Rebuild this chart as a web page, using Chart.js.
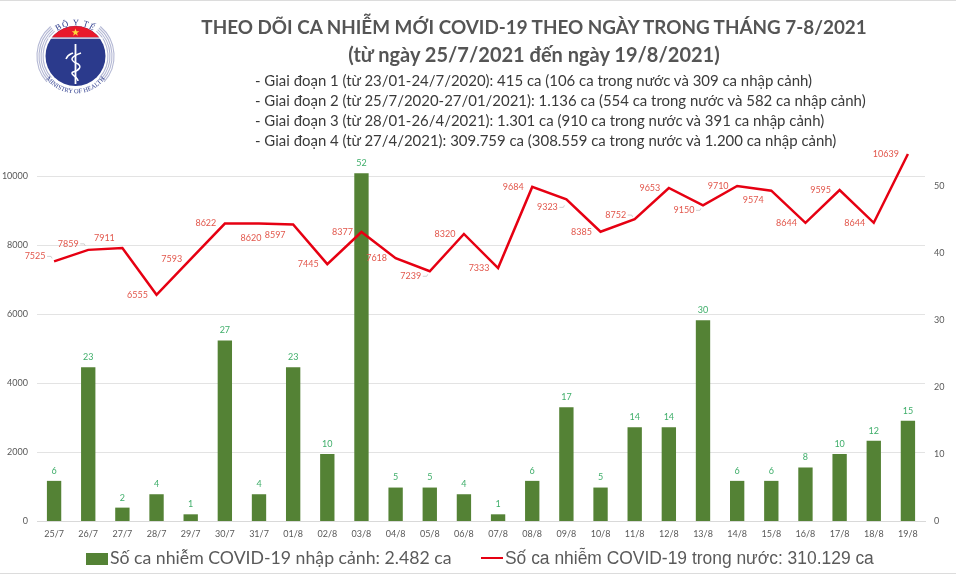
<!DOCTYPE html>
<html lang="vi">
<head>
<meta charset="utf-8">
<title>Theo dõi ca nhiễm mới COVID-19</title>
<script src="https://cdn.jsdelivr.net/npm/chart.js@4"></script>
<style>
  html, body { margin: 0; padding: 0; background: #fff; }
  body { width: 956px; height: 574px; position: relative; overflow: hidden; font-family: Lato, "Open Sans", sans-serif; }
  #chartBox { position: absolute; left: 0; top: 0; width: 956px; height: 574px; }
  .edge { position: absolute; left: 0; width: 956px; height: 1px; background: #dcdcdc; }
  .head { position: absolute; left: 134px; width: 800px; text-align: center; font-weight: 700; font-size: 20px; line-height: 26px; color: #555; white-space: nowrap; }
  .note { position: absolute; left: 255px; font-size: 14.95px; line-height: 20px; color: #3a3a3a; white-space: nowrap; }
  .lg { position: absolute; top: 546px; line-height: 24px; color: #5a5a5a; white-space: nowrap; }
  .swatch { position: absolute; left: 86px; top: 553px; width: 22px; height: 12px; background: #548235; }
  .dash { position: absolute; left: 481px; top: 557px; width: 22px; height: 2px; background: #e60012; }
  #logo { position: absolute; left: 30px; top: 12px; }
</style>
</head>
<body>
<div id="chartBox"><canvas id="covidChart" width="956" height="574"></canvas></div>
<div class="edge" style="top:0"></div>
<div class="edge" style="top:573px"></div>

<svg id="logo" width="92" height="88" viewBox="30 12 92 88">
  <defs>
    <clipPath id="topCap"><rect x="40" y="20" width="72" height="17.5"/></clipPath>
    <path id="arcTop" d="M 52 36 A 31 31 0 0 1 99 36"/>
    <path id="arcBottom" d="M 43 74 A 37 37 0 0 0 108 74"/>
  </defs>
  <g fill="none" stroke="#b4b8d4" stroke-width="1.100">
    <path d="M 54.6 31.1 A 32.5 32.5 0 0 0 51.4 77.7"/><path d="M 53.3 29.6 A 34.5 34.5 0 0 0 49.9 79.1"/>
    <path d="M 52 28 A 36.5 36.5 0 0 0 48.4 80.4"/><path d="M 50.7 26.5 A 38.5 38.5 0 0 0 46.9 81.8"/>
    <path d="M 96.4 31.1 A 32.5 32.5 0 0 1 99.6 77.7"/><path d="M 97.7 29.6 A 34.5 34.5 0 0 1 101.1 79.1"/>
    <path d="M 99 28 A 36.5 36.5 0 0 1 102.6 80.4"/><path d="M 100.3 26.5 A 38.5 38.5 0 0 1 104.1 81.8"/>
  </g>
  <circle cx="75.500" cy="56" r="30" fill="#2b3a8c"/>
  <circle cx="75.500" cy="56" r="30" fill="#e8192c" clip-path="url(#topCap)"/>
  <rect x="48" y="37.500" width="55" height="1.200" fill="#fff"/>
  <polygon points="75.500,28.500 76.500,31.300 79.300,31.300 77,33 77.900,35.700 75.500,34 73.100,35.700 74,33 71.700,31.300 74.500,31.300" fill="#ffd83a"/>
  <g fill="none" stroke="#fff">
    <path d="M 75.500 44 L 75.500 84" stroke-width="1.800"/>
    <path d="M 81 53 C 70 57 70 60 76 63 C 84 66 78 71 73 72 C 69 74 78 77 78 81" stroke-width="1.500"/>
    <path d="M 66 59 C 68 54 71 54 73 53" stroke-width="1.500"/>
  </g>
  <text font-family="Liberation Serif, serif" font-size="8.500" fill="#2b3a8c" letter-spacing="1"><textPath href="#arcTop" startOffset="50%" text-anchor="middle">BỘ Y TẾ</textPath></text>
  <text font-family="Liberation Serif, serif" font-size="6.500" fill="#2b3a8c"><textPath href="#arcBottom" startOffset="50%" text-anchor="middle">MINISTRY OF HEALTH</textPath></text>
</svg>

<div class="head" style="top:14px;font-size:18.85px">THEO DÕI CA NHIỄM MỚI COVID-19 THEO NGÀY TRONG THÁNG 7-8/2021</div>
<div class="head" style="top:41px">(từ ngày 25/7/2021 đến ngày 19/8/2021)</div>
<div class="note" style="top:70px">- Giai đoạn 1 (từ 23/01-24/7/2020): 415 ca (106 ca trong nước và 309 ca nhập cảnh)</div>
<div class="note" style="top:90px">- Giai đoạn 2 (từ 25/7/2020-27/01/2021): 1.136 ca (554 ca trong nước và 582 ca nhập cảnh)</div>
<div class="note" style="top:110px">- Giai đoạn 3 (từ 28/01-26/4/2021): 1.301 ca (910 ca trong nước và 391 ca nhập cảnh)</div>
<div class="note" style="top:130px">- Giai đoạn 4 (từ 27/4/2021): 309.759 ca (308.559 ca trong nước và 1.200 ca nhập cảnh)</div>

<div class="swatch"></div>
<div class="lg" style="left:110px;font-size:17.7px">Số ca nhiễm COVID-19 nhập cảnh: 2.482 ca</div>
<div class="dash"></div>
<div class="lg" style="left:505px;font-size:17.43px;font-family:'Liberation Sans',sans-serif">Số ca nhiễm COVID-19 trong nước: 310.129 ca</div>

<script>
const categories = ['25/7','26/7','27/7','28/7','29/7','30/7','31/7','01/8','02/8','03/8','04/8','05/8','06/8',
                    '07/8','08/8','09/8','10/8','11/8','12/8','13/8','14/8','15/8','16/8','17/8','18/8','19/8'];
const importedCases = [6,23,2,4,1,27,4,23,10,52,5,5,4,1,6,17,5,14,14,30,6,6,8,10,12,15];
const domesticCases = [7525,7859,7911,6555,7593,8622,8620,8597,7445,8377,7618,7239,8320,
                       7333,9684,9323,8385,8752,9653,9150,9710,9574,8644,9595,8644,10639];
const leftTicks = [0,2000,4000,6000,8000,10000];
const rightTicks = [0,10,20,30,40,50];

// line labels sit left of the point, these ones are nudged [dx, dy]
const labelNudge = {
  0: [-19, -5], 1: [-20, -6], 2: [-18, -10], 6: [-8, 14], 7: [-18, 11], 11: [-19, 5],
  15: [-19, 8], 17: [-19, -4], 19: [-19, 5], 21: [-18, 9], 25: [-22, 0]
};
// little grey hooks between a moved label and its point
const hookLabels = [0, 1, 11, 15, 17, 19];

const C_GREEN = '#548235';
const C_RED = '#e60012';
const C_TICK = '#595959';
const tickFont = { family: 'Lato', size: 9 };

const pointLabels = {
  id: 'pointLabels',
  afterDatasetsDraw(chart) {
    const ctx = chart.ctx;
    ctx.save();
    ctx.textAlign = 'center';
    ctx.textBaseline = 'middle';
    ctx.font = '9px Lato';

    ctx.fillStyle = '#3fae6a';
    chart.getDatasetMeta(0).data.forEach((bar, i) => {
      ctx.fillText(importedCases[i], bar.x, bar.y - 10);
    });

    chart.getDatasetMeta(1).data.forEach((pt, i) => {
      const n = labelNudge[i] || [-19, 0];
      ctx.fillStyle = '#e2574c';
      ctx.fillText(domesticCases[i], pt.x + n[0], pt.y + n[1]);
      if (hookLabels.includes(i)) {
        const lx = pt.x + n[0] + 12;
        const ly = pt.y + n[1];
        ctx.strokeStyle = '#bdbdbd';
        ctx.lineWidth = 0.7;
        ctx.beginPath();
        ctx.moveTo(lx, ly);
        ctx.lineTo(lx + 4, ly);
        ctx.lineTo(lx + 5, ly + (n[1] < 0 ? 2 : -2));
        ctx.stroke();
      }
    });
    ctx.restore();
  }
};

new Chart(document.getElementById('covidChart'), {
  type: 'bar',
  data: {
    labels: categories,
    datasets: [
      { type: 'bar', label: 'Số ca nhiễm COVID-19 nhập cảnh', data: importedCases, yAxisID: 'yRight',
        backgroundColor: C_GREEN, barPercentage: 1, categoryPercentage: 0.42, order: 2 },
      { type: 'line', label: 'Số ca nhiễm COVID-19 trong nước', data: domesticCases, yAxisID: 'yLeft',
        borderColor: C_RED, borderWidth: 2.5, tension: 0, pointRadius: 0, order: 1 }
    ]
  },
  options: {
    responsive: false,
    animation: false,
    layout: { padding: { top: 150, bottom: 0, left: 0, right: 0 } },
    plugins: { legend: { display: false }, tooltip: { enabled: false } },
    scales: {
      x: {
        grid: { display: false, drawTicks: false },
        border: { color: '#d9d9d9' },
        ticks: { color: C_TICK, font: tickFont, padding: 8, maxRotation: 0, autoSkip: false },
        afterFit: s => { s.height = 53; }
      },
      yLeft: {
        position: 'left', min: 0, max: 10754,
        afterBuildTicks: s => { s.ticks = leftTicks.map(v => ({ value: v })); },
        grid: { color: '#e3e3e3', drawTicks: false },
        border: { display: false },
        ticks: { color: C_TICK, font: tickFont, padding: 9, callback: v => String(v) },
        afterFit: s => { s.width = 37; }
      },
      yRight: {
        position: 'right', min: 0, max: 55.46,
        afterBuildTicks: s => { s.ticks = rightTicks.map(v => ({ value: v })); },
        grid: { display: false, drawTicks: false },
        border: { display: false },
        ticks: { color: C_TICK, font: tickFont, padding: 9, callback: v => String(v) },
        afterFit: s => { s.width = 31; }
      }
    }
  },
  plugins: [pointLabels]
});
</script>
</body>
</html>
